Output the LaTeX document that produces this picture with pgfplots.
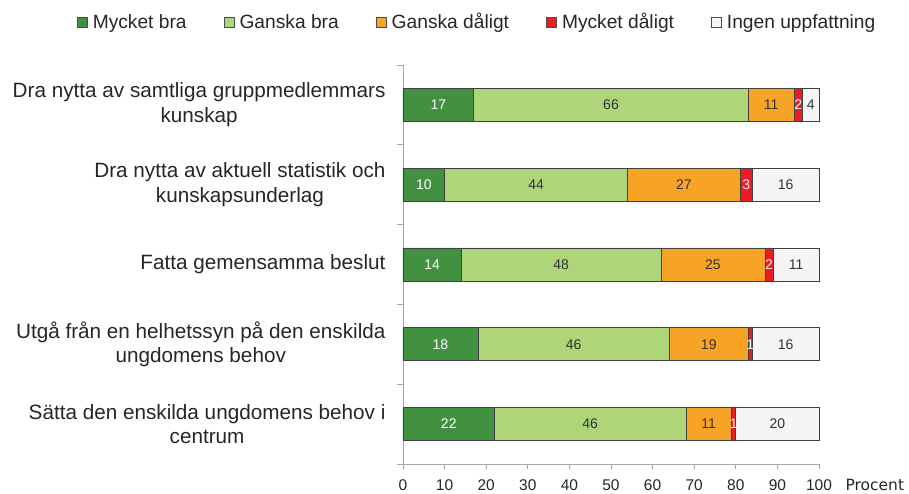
\documentclass[border=0pt]{standalone}
\usepackage{pgfplots}
\usepackage{pgfplotstable}
\pgfplotsset{compat=1.18}
\usepackage{fontspec}
\setmainfont{Liberation Sans}
\newfontfamily\dejavu{DejaVu Sans}
\definecolor{cA}{HTML}{419141}
\definecolor{cB}{HTML}{AED57A}
\definecolor{cC}{HTML}{F7A325}
\definecolor{cD}{HTML}{ED1C24}
\definecolor{cE}{HTML}{F5F5F5}
\definecolor{txt}{HTML}{333333}
\definecolor{axgray}{HTML}{A6A6A6}
\pgfplotstableread{
y A B C D E
5 17 66 11 2 4
4 10 44 27 3 16
3 14 48 25 2 11
2 18 46 19 1 16
1 22 46 11 1 20
}\data
% label positions: middle of each segment
\pgfplotstablecreatecol[create col/expr={\thisrow{A}/2}]{Am}\data
\pgfplotstablecreatecol[create col/expr={\thisrow{A}+\thisrow{B}/2}]{Bm}\data
\pgfplotstablecreatecol[create col/expr={\thisrow{A}+\thisrow{B}+\thisrow{C}/2}]{Cm}\data
\pgfplotstablecreatecol[create col/expr={\thisrow{A}+\thisrow{B}+\thisrow{C}+\thisrow{D}/2}]{Dm}\data
\pgfplotstablecreatecol[create col/expr={\thisrow{A}+\thisrow{B}+\thisrow{C}+\thisrow{D}+\thisrow{E}/2}]{Em}\data
\pgfplotsset{
  geom/.style={at={(0,0)}, anchor=south west,
    scale only axis, width=416pt, height=399pt,
    xmin=0, xmax=100, ymin=0.5, ymax=5.5},
  lbl/.style={only marks, mark=none, nodes near coords, point meta=explicit symbolic,
    every node near coord/.append style={anchor=center, font=\fontsize{14}{16}\selectfont, text=#1}},
}
\begin{document}
\begin{tikzpicture}
\begin{axis}[
  geom,
  clip=false,
  xbar stacked, bar width=33pt,
  axis x line*=bottom, axis y line*=left,
  axis line style={draw=axgray, line width=0.8pt},
  xtick={0,10,...,100},
  ytick={1,2,3,4,5},
  yticklabels={{Sätta den enskilda ungdomens behov i\\centrum},
    {Utgå från en helhetssyn på den enskilda\\ungdomens behov},
    {Fatta gemensamma beslut},
    {Dra nytta av aktuell statistik och\\kunskapsunderlag},
    {Dra nytta av samtliga gruppmedlemmars\\kunskap}},
  tick align=outside, major tick length=5pt,
  xtick style={draw=axgray, line width=0.8pt},
  ytick style={draw=none},
  extra y ticks={0.5,1.5,2.5,3.5,4.5,5.5},
  extra y tick labels={},
  extra y tick style={ytick style={draw=axgray, line width=0.8pt}, major tick length=6pt},
  /pgf/number format/assume math mode=true,
  xticklabel style={font=\fontsize{15.5}{18}\selectfont, text=black!85, yshift=-7pt},
  yticklabel style={font=\fontsize{20.7}{24.5}\selectfont, align=center, text=black!85, xshift=-9pt},
  legend columns=5,
  legend cell align=left,
  legend style={at={(-0.7837,1.1078)}, anchor=west, draw=none, fill=none, inner sep=0pt,
    font=\fontsize{19.2}{21}\selectfont, text=black!85,
    /tikz/every odd column/.append style={column sep=3pt},
    /tikz/every even column/.append style={column sep=35.3pt}},
  every axis plot post/.append style={draw=black!75, line width=0.7pt,
    legend image code/.code={\draw[##1, draw=black!70, line width=0.6pt] (0pt,-5pt) rectangle (10pt,5pt);}},
]
\addplot[fill=cA] table[x=A, y=y] {\data};
\addplot[fill=cB] table[x=B, y=y] {\data};
\addplot[fill=cC] table[x=C, y=y] {\data};
\addplot[fill=cD] table[x=D, y=y] {\data};
\addplot[fill=cE] table[x=E, y=y] {\data};
\legend{Mycket bra, Ganska bra, Ganska dåligt, Mycket dåligt, Ingen uppfattning}
\node[font=\dejavu\fontsize{15.5}{18}\selectfont, anchor=base west, text=black!85, xshift=23pt, yshift=-27pt] at (rel axis cs:1,0) {Procent};
\end{axis}
\begin{axis}[geom, hide axis, clip=false]
\addplot[lbl=white] table[x=Am, y=y, meta=A] {\data};
\addplot[lbl=txt] table[x=Bm, y=y, meta=B] {\data};
\addplot[lbl=txt] table[x=Cm, y=y, meta=C] {\data};
\addplot[lbl=white] table[x=Dm, y=y, meta=D] {\data};
\addplot[lbl=txt] table[x=Em, y=y, meta=E] {\data};
\end{axis}
\pgfresetboundingbox
\path[use as bounding box] (-403pt,-30pt) rectangle (506pt,464pt);
\end{tikzpicture}
\end{document}
